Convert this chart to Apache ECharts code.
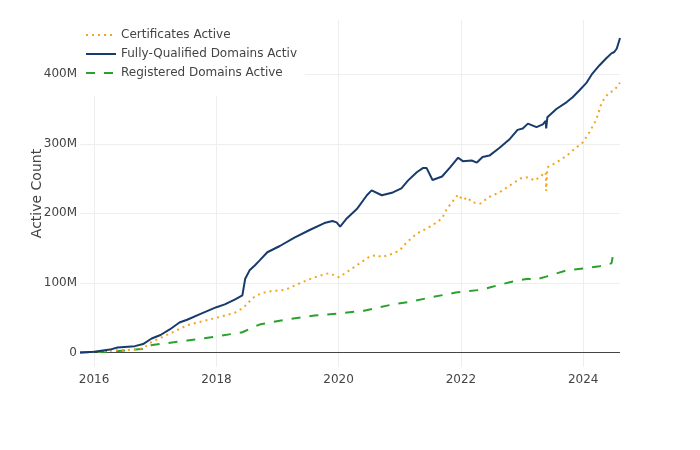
<!DOCTYPE html>
<html>
<head>
<meta charset="utf-8">
<script src="https://cdn.jsdelivr.net/npm/echarts@6/dist/echarts.min.js"></script>
<style>html,body{margin:0;padding:0;background:#fff}#c{width:700px;height:450px}</style>
</head>
<body>
<div id="c"></div>
<script>
const seriesNames = ['Certificates Active', 'Fully-Qualified Domains Active', 'Registered Domains Active'];
const yTicks = [0, 100e6, 200e6, 300e6, 400e6];
const xTickYears = [2016, 2018, 2020, 2022, 2024];

const certDates = ['2015-10-09','2016-01-01','2016-05-15','2016-09-01','2016-10-20','2016-12-10','2017-03-28','2017-07-10','2017-10-15','2018-01-05','2018-04-20','2018-06-10','2018-08-05','2018-09-25','2018-11-20','2019-02-15','2019-05-20','2019-08-10','2019-11-05','2020-01-05','2020-03-05','2020-05-05','2020-07-05','2020-08-15','2020-09-15','2020-11-20','2021-01-01','2021-02-10','2021-04-12','2021-06-10','2021-08-10','2021-09-10','2021-10-10','2021-12-15','2022-01-12','2022-02-10','2022-03-06','2022-04-28','2022-06-14','2022-08-18','2022-10-20','2022-12-20','2023-02-05','2023-03-18','2023-05-22','2023-05-25','2023-06-01','2023-07-25','2023-09-25','2023-11-22','2023-12-30','2024-02-08','2024-03-18','2024-04-22','2024-06-01','2024-07-05','2024-08-08'];
const certValues = [0,1,3,4,6,15,27,39,45,50,57,64,78,85,88,90,100,108,114,108,118,128,138,140,137,142,147,158,171,178,187,193,207,227,219,223,216,214,223,230,240,250,252,247,259,232,266,273,283,295,302,317,334,360,373,377,388];

const fqdnDates = ['2015-10-09','2016-01-01','2016-04-05','2016-05-20','2016-09-01','2016-10-20','2016-12-10','2017-02-01','2017-03-28','2017-05-25','2017-07-10','2017-09-25','2018-01-01','2018-02-20','2018-04-20','2018-06-05','2018-06-22','2018-07-18','2018-08-18','2018-09-15','2018-11-01','2019-01-15','2019-04-12','2019-07-12','2019-10-08','2019-11-25','2019-12-20','2020-01-10','2020-02-20','2020-04-22','2020-06-18','2020-07-16','2020-09-15','2020-11-20','2021-01-10','2021-02-18','2021-04-12','2021-05-18','2021-06-10','2021-07-15','2021-09-10','2021-10-28','2021-12-15','2022-01-12','2022-03-06','2022-04-06','2022-05-10','2022-06-20','2022-08-18','2022-10-20','2022-12-05','2023-01-05','2023-02-05','2023-03-28','2023-05-05','2023-05-22','2023-05-25','2023-06-01','2023-07-25','2023-09-25','2023-10-30','2023-12-10','2024-01-22','2024-02-25','2024-04-08','2024-05-18','2024-06-18','2024-07-05','2024-07-20','2024-08-08'];
const fqdnValues = [0,1,4,7,9,12,20,25,33,43,47,55,65,69,76,82,106,118,125,132,144,153,165,176,186,189,187,181,193,207,226,233,226,230,236,247,259,265,265,248,253,266,280,275,276,273,281,283,294,307,320,322,329,324,328,333,322,338,350,360,367,377,388,401,413,423,430,432,437,452];

const regDates = ['2015-10-09','2016-04-05','2016-09-01','2016-10-25','2016-11-20','2017-07-10','2018-01-05','2018-06-05','2018-09-15','2019-02-15','2019-08-10','2020-01-01','2020-06-01','2020-11-20','2021-03-10','2021-07-01','2021-12-01','2022-05-01','2022-07-01','2022-10-20','2023-02-05','2023-03-15','2023-05-25','2023-09-25','2024-01-20','2024-04-08','2024-06-18','2024-06-25'];
const regValues = [0,1,4,5,10,17,23,29,40,47,53,56,60,69,73,79,86,90,94,101,106,104,109,118,121,124,128,137];

function pairs(dates, vals) { return dates.map((d, i) => [d, vals[i] * 1e6]); }
function ts(y) { return new Date(y, 0, 1).getTime(); }

const chart = echarts.init(document.getElementById('c'), null, {renderer: 'canvas'});
const font = '"DejaVu Sans", Verdana, sans-serif';
chart.setOption({
  animation: false,
  textStyle: {fontFamily: font},
  grid: {left: 80, right: 80, top: 20, bottom: 83, containLabel: false},
  legend: {
    orient: 'vertical', left: 80, top: 20,
    backgroundColor: '#fff',
    padding: [8, 5, 16, 5],
    itemGap: 5, itemWidth: 30, itemHeight: 14,
    z: 10,
    itemStyle: {opacity: 0},
    textStyle: {fontSize: 12, color: '#444', fontFamily: font, width: 179, overflow: 'truncate', ellipsis: '', lineHeight: 14},
    data: seriesNames
  },
  xAxis: {
    type: 'time', min: 'dataMin', max: 'dataMax',
    axisLine: {show: false, onZero: false},
    axisTick: {show: false, customValues: xTickYears.map(ts)},
    axisLabel: {customValues: xTickYears.map(ts), formatter: '{yyyy}', color: '#444', fontSize: 12, margin: 7, fontFamily: font},
    splitLine: {show: true, lineStyle: {color: '#eeeeee', width: 1}}
  },
  yAxis: {
    type: 'value', min: -21e6, max: 478e6,
    name: 'Active Count', nameLocation: 'middle', nameGap: 36, nameMoveOverlap: false,
    nameTextStyle: {fontSize: 14, color: '#444', fontFamily: font},
    axisLine: {show: false},
    axisTick: {show: false, customValues: yTicks},
    axisLabel: {customValues: yTicks, color: '#444', fontSize: 12, margin: 3, fontFamily: font,
      formatter: v => v === 0 ? '0' : (v / 1e6) + 'M'},
    splitLine: {show: true, lineStyle: {color: '#eeeeee', width: 1}}
  },
  series: [
    {name: seriesNames[0], type: 'line', symbol: 'none', showSymbol: false, z: 3,
     data: pairs(certDates, certValues),
     itemStyle: {color: '#F2A51E'},
     lineStyle: {color: '#F2A51E', width: 2, type: [2, 4]}},
    {name: seriesNames[1], type: 'line', symbol: 'none', showSymbol: false, z: 4,
     data: pairs(fqdnDates, fqdnValues),
     itemStyle: {color: '#173B6C'},
     lineStyle: {color: '#173B6C', width: 2}},
    {name: seriesNames[2], type: 'line', symbol: 'none', showSymbol: false, z: 2,
     data: pairs(regDates, regValues),
     itemStyle: {color: '#2CA02C'},
     lineStyle: {color: '#2CA02C', width: 2, type: [9, 9]},
     markLine: {silent: true, symbol: 'none', label: {show: false}, z: 1,
       lineStyle: {color: '#444', width: 1, type: 'solid'},
       data: [{yAxis: 0}]}}
  ]
});
</script>
</body>
</html>
